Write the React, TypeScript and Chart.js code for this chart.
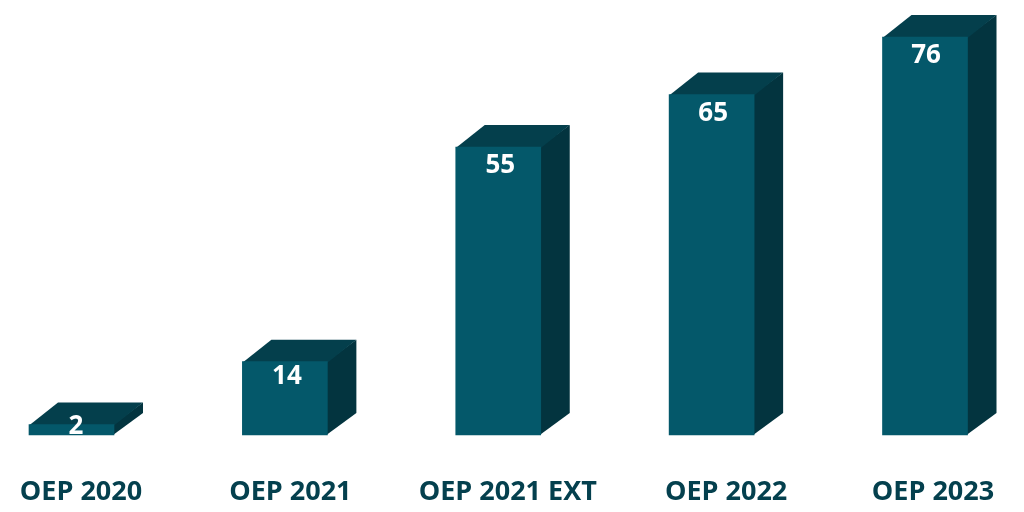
import React, { useEffect, useRef } from "react";
import { Chart, registerables } from "chart.js";

Chart.register(...registerables);

const categories = ["OEP 2020", "OEP 2021", "OEP 2021 EXT", "OEP 2022", "OEP 2023"];
const values = [2, 14, 55, 65, 76];

const FRONT = "#04586a";
const TOP = "#043f4c";
const SIDE = "#03343f";
const TEXT = "#04404e";
const FONT = '"Open Sans", sans-serif';
const DEPTH_X = 29;
const DEPTH_Y = 22;
// The reference's labels sit slightly off their bars' centres, by hand.
const TICK_NUDGE = [9.5, 5.5, 9.5, 14.5, 8];
const VALUE_NUDGE = [4.5, 2, 2, 1.5, 1];

const bar3d = {
  id: "bar3d",
  beforeDatasetsDraw(chart: any) {
    const { ctx } = chart;
    ctx.save();
    for (const el of chart.getDatasetMeta(0).data) {
      const l = el.x - el.width / 2;
      const r = el.x + el.width / 2;
      const t = el.y;
      const b = el.base;
      ctx.fillStyle = SIDE;
      ctx.beginPath();
      ctx.moveTo(r - 1, t);
      ctx.lineTo(r + DEPTH_X, t - DEPTH_Y);
      ctx.lineTo(r + DEPTH_X, b - DEPTH_Y);
      ctx.lineTo(r - 1, b);
      ctx.closePath();
      ctx.fill();
      ctx.fillStyle = TOP;
      ctx.beginPath();
      ctx.moveTo(l, t + 1);
      ctx.lineTo(l + DEPTH_X, t - DEPTH_Y);
      ctx.lineTo(r + DEPTH_X, t - DEPTH_Y);
      ctx.lineTo(r, t + 1);
      ctx.closePath();
      ctx.fill();
    }
    ctx.restore();
  },
  afterDatasetsDraw(chart: any) {
    const { ctx } = chart;
    const meta = chart.getDatasetMeta(0);
    ctx.save();
    ctx.fillStyle = "#ffffff";
    ctx.font = `700 26px ${FONT}`;
    ctx.textAlign = "center";
    ctx.textBaseline = "middle";
    meta.data.forEach((el: any, i: number) => {
      const h = el.base - el.y;
      ctx.fillText(String(values[i]), el.x + VALUE_NUDGE[i], el.y + Math.min(18.5, h * 0.21));
    });
    ctx.restore();
  },
};

export default function App() {
  const ref = useRef<HTMLCanvasElement>(null);
  useEffect(() => {
    const chart = new Chart(ref.current!, {
      type: "bar",
      data: {
        labels: categories,
        datasets: [
          {
            data: values,
            backgroundColor: FRONT,
            borderWidth: 0,
            barThickness: 85,
            clip: false,
          } as any,
        ],
      },
      options: {
        animation: false,
        responsive: false,
        layout: { padding: { left: 71.5, right: 99, top: 37, bottom: 0 } },
        plugins: { legend: { display: false }, tooltip: { enabled: false }, title: { display: false } },
        scales: {
          x: {
            offset: false,
            border: { display: false },
            grid: { display: false, drawTicks: false },
            ticks: {
              autoSkip: false,
              maxRotation: 0,
              minRotation: 0,
              padding: 41,
              color: TEXT,
              font: { family: FONT, size: 27, weight: "700" },
            },
            afterFit(scale: any) {
              scale.height = 77;
              scale.paddingLeft = 0;
              scale.paddingRight = 0;
            },
            afterUpdate(scale: any) {
              const compute = scale._computeLabelItems;
              scale._computeLabelItems = function (area: any) {
                const items = compute.call(this, area);
                items.forEach((it: any, i: number) => {
                  const [x, y] = it.options.translation;
                  it.options.translation = [x + TICK_NUDGE[i], y];
                });
                return items;
              };
              scale._labelItems = null;
            },
          },
          y: { display: false, min: 0, max: 76 },
        },
      },
      plugins: [bar3d],
    } as any);
    return () => chart.destroy();
  }, []);
  return (
    <div style={{ position: "absolute", left: 0, top: 0, width: 1024, height: 512, background: "#fff", overflow: "hidden" }}>
      <canvas ref={ref} width={1024} height={512} style={{ display: "block" }} />
    </div>
  );
}
